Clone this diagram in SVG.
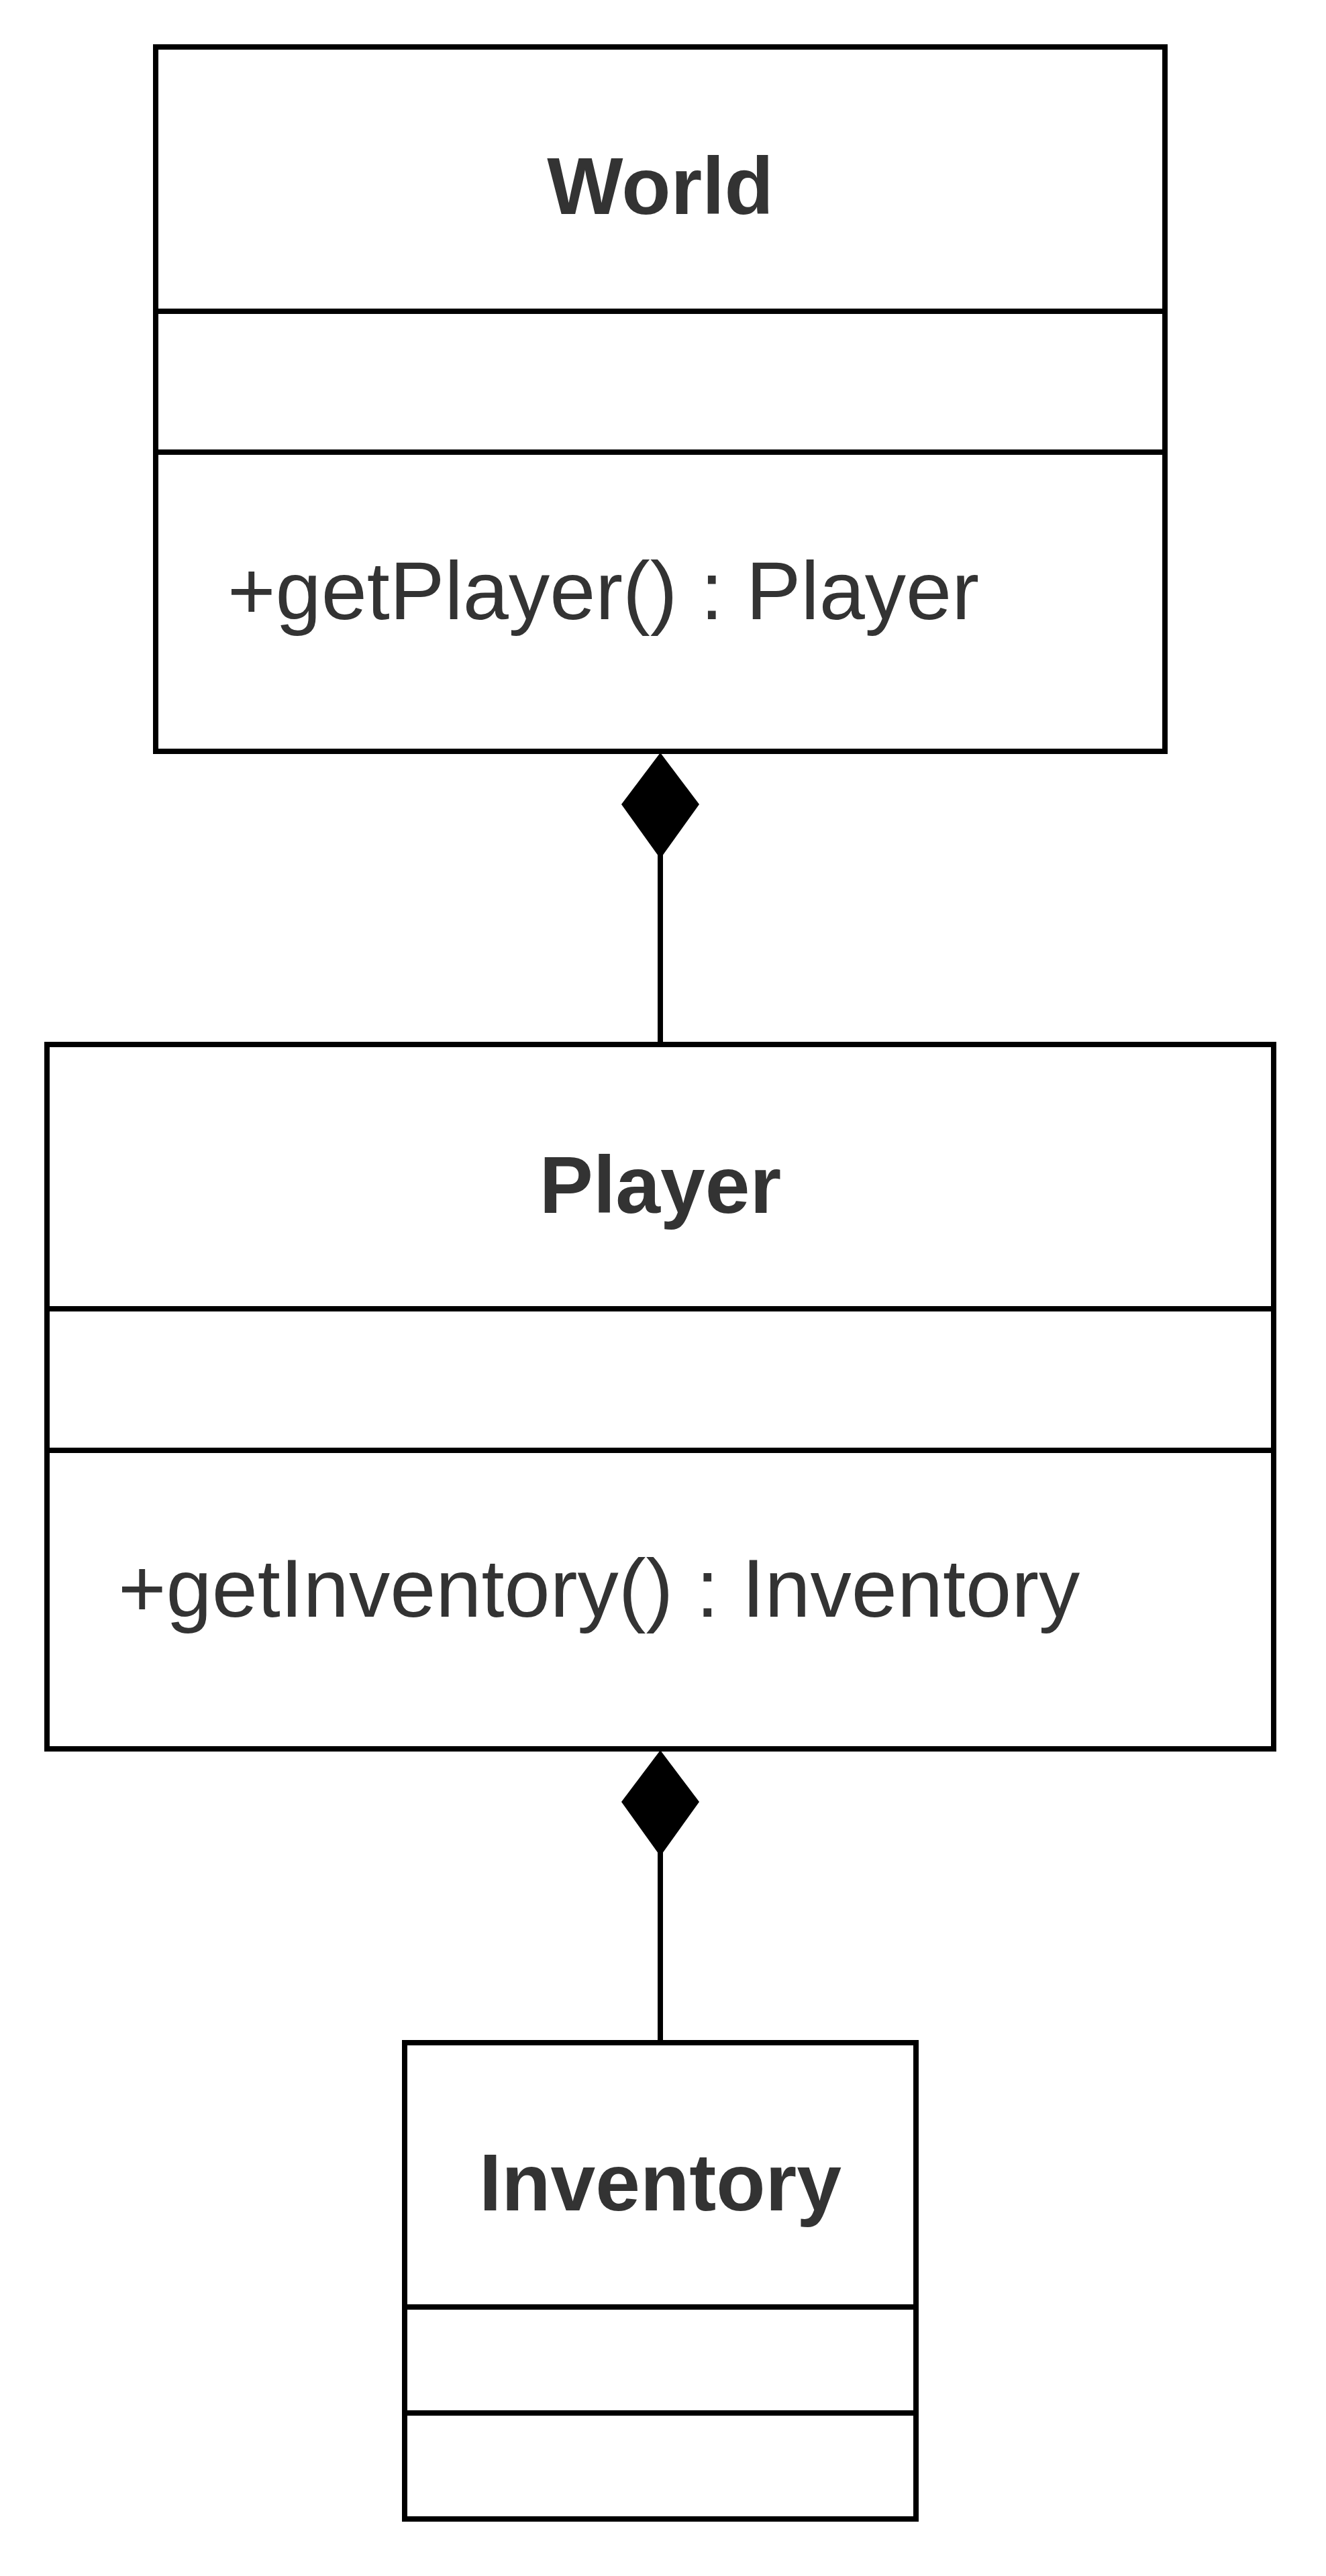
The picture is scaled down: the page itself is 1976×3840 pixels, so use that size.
<svg xmlns="http://www.w3.org/2000/svg" width="1976" height="3840" viewBox="0 0 1976 3840">
<style>
.box{fill:#ffffff;stroke:#000000;stroke-width:8}
.div{stroke:#000000;stroke-width:8}
.title{font-family:"Liberation Sans",Arial,sans-serif;font-size:120px;font-weight:bold;fill:#333333;text-anchor:middle}
.op{font-family:"Liberation Sans",Arial,sans-serif;font-size:122.5px;fill:#333333}
.conn{stroke:#000000;stroke-width:8;fill:none}
.dia{fill:#000000;stroke:none}
</style>
<rect width="1976" height="3840" fill="#ffffff"/>
<g id="World">
<rect class="box" x="232" y="70" width="1504" height="1050"/>
<line class="div" x1="232" y1="464" x2="1736" y2="464"/>
<line class="div" x1="232" y1="674" x2="1736" y2="674"/>
<text class="title" x="984" y="319">World</text>
<text class="op" x="339" y="923">+getPlayer() : Player</text>
</g>
<g id="Player">
<rect class="box" x="70" y="1557" width="1828" height="1050"/>
<line class="div" x1="70" y1="1951" x2="1898" y2="1951"/>
<line class="div" x1="70" y1="2162" x2="1898" y2="2162"/>
<text class="title" x="984" y="1808">Player</text>
<text class="op" x="176" y="2410">+getInventory() : Inventory</text>
</g>
<g id="Inventory">
<rect class="box" x="603" y="3045" width="762" height="710"/>
<line class="div" x1="603" y1="3439" x2="1365" y2="3439"/>
<line class="div" x1="603" y1="3597" x2="1365" y2="3597"/>
<text class="title" x="984" y="3295">Inventory</text>
</g>
<g id="connectors">
<line class="conn" x1="984" y1="1270" x2="984" y2="1557"/>
<polygon class="dia" points="984,1122 1042,1199 984,1280 926,1199"/>
<line class="conn" x1="984" y1="2755" x2="984" y2="3045"/>
<polygon class="dia" points="984,2609 1042,2686 984,2767 926,2686"/>
</g>
</svg>
